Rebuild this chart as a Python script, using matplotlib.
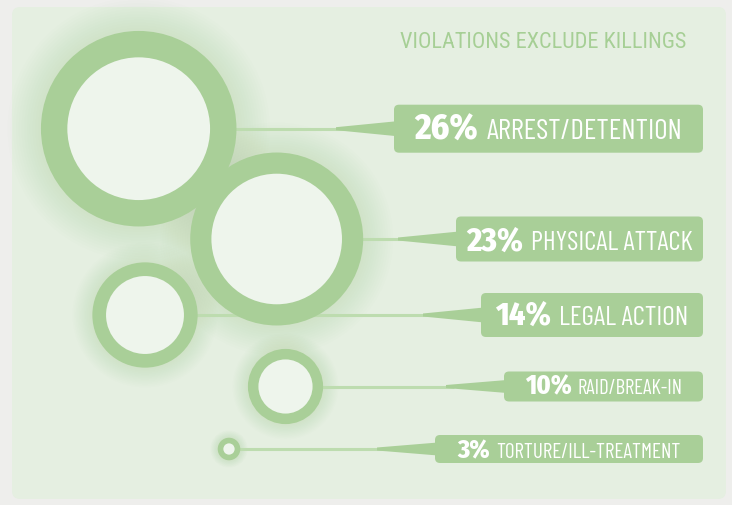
import matplotlib
matplotlib.use('Agg')
import matplotlib.pyplot as plt
from matplotlib.patches import Circle, FancyBboxPatch, Polygon, Rectangle

# data
values = [26, 23, 14, 10, 3]
labels = ['ARREST/DETENTION', 'PHYSICAL ATTACK', 'LEGAL ACTION',
          'RAID/BREAK-IN', 'TORTURE/ILL-TREATMENT']
title = 'VIOLATIONS EXCLUDE KILLINGS'

# layout, in pixels with y pointing down
W, H = 732, 506
cx = [138.7, 276.7, 145.0, 285.5, 229.0]
cy = [129.7, 240.0, 316.0, 387.5, 450.0]
px_per_pct = 3.76
hole = [0.73, 0.755, 0.74, 0.72, 0.5]
box_left = [394, 456, 481, 504, 435]
box_right = 703
box_h = [48, 45, 44, 30, 28]
base_off = [9.5, 10.5, 9.0, 7.0, 8.0]
# text sizes (pt) and the widths (px) the texts take in the reference
num_size = [23.5, 22.5, 22.5, 17.5, 17.0]
num_w = [66, 57, 56, 47, 33]
lab_size = [18.2, 18.2, 18.5, 13.0, 13.2]
lab_w = [200, 162, 129, 124, 210]

GREEN = '#a9cf98'
LINE = '#bddcaf'
HOLE = '#eef5ec'
PANEL = '#e5efe1'
BG = '#eeeeec'
FONT = ['Barlow Condensed', 'Roboto Condensed', 'Liberation Sans Narrow', 'DejaVu Sans']
TITLE_FONT = ['Roboto Condensed', 'Archivo Narrow', 'DejaVu Sans']
NUM_FONT = ['Fira Sans Condensed', 'Roboto Condensed', 'DejaVu Sans']

fig = plt.figure(figsize=(W / 100, H / 100), dpi=100)
ax = fig.add_axes([0, 0, 1, 1])
ax.set_xlim(0, W)
ax.set_ylim(H, 0)
ax.axis('off')

ax.add_patch(Rectangle((0, 0), W, H, color=BG, zorder=0))
ax.add_patch(FancyBboxPatch((20, 16), 698, 476, boxstyle='round,pad=8,rounding_size=8',
                            fc=PANEL, ec='none', zorder=1))

radii = [v * px_per_pct for v in values]

# soft glow round the rings
for x, y, r in zip(cx, cy, radii):
    spread = 0.3 * r + 4
    n = 12
    for k in range(n, 0, -1):
        ax.add_patch(Circle((x, y), r + spread * k / n, fc='#acd49b', ec='none',
                            alpha=0.022, zorder=2))

# leader lines, drawn under the rings
for x, y, r, bl in zip(cx, cy, radii, box_left):
    ax.plot([x, bl - 50], [y, y], color=LINE, lw=2.2, solid_capstyle='butt', zorder=3)

for i, (x, y, r) in enumerate(zip(cx, cy, radii)):
    ax.add_patch(Circle((x, y), r, fc=GREEN, ec='none', zorder=4 + i * 0.1))
    ax.add_patch(Circle((x, y), r * hole[i], fc=HOLE, ec='none', zorder=4.05 + i * 0.1))

ax.text(686, 48, title, ha='right', va='baseline', fontsize=16, color='#a6cf95',
        family=TITLE_FONT, zorder=6)


def fit(t, size, target, renderer, grow=1.08):
    # shrink (or grow a little) the font so the text spans about the reference width
    w = t.get_window_extent(renderer).width
    t.set_fontsize(size * min(grow, target / w))
    return t.get_window_extent(renderer).width


renderer = fig.canvas.get_renderer()
for i, v in enumerate(values):
    y = cy[i]
    bl = box_left[i]
    h = box_h[i]
    half = 7.5 if h > 35 else 6.5
    ax.add_patch(Polygon([(bl - 58, y - 1.5), (bl + 3, y - half), (bl + 3, y + half),
                          (bl - 58, y + 1.5)], closed=True, fc=GREEN, ec='none', zorder=5))
    ax.add_patch(FancyBboxPatch((bl + 4, y - h / 2 + 4), box_right - bl - 8, h - 8,
                                boxstyle='round,pad=4,rounding_size=5',
                                fc=GREEN, ec='none', zorder=5))
    base = y + base_off[i]
    tn = ax.text(0, base, f'{v}%', fontsize=num_size[i], fontweight='heavy', color='white',
                 family=NUM_FONT, va='baseline', ha='left', zorder=6)
    tl = ax.text(0, base, labels[i], fontsize=lab_size[i], color='white',
                 family=FONT, va='baseline', ha='left', zorder=6)
    wn = fit(tn, num_size[i], num_w[i], renderer)
    wl = fit(tl, lab_size[i], lab_w[i], renderer, grow=1.15)
    gap = 8 if h > 35 else 6
    x0 = (bl + box_right) / 2 - (wn + gap + wl) / 2
    tn.set_x(x0)
    tl.set_x(x0 + wn + gap)

fig.savefig('out.png', dpi=100)
